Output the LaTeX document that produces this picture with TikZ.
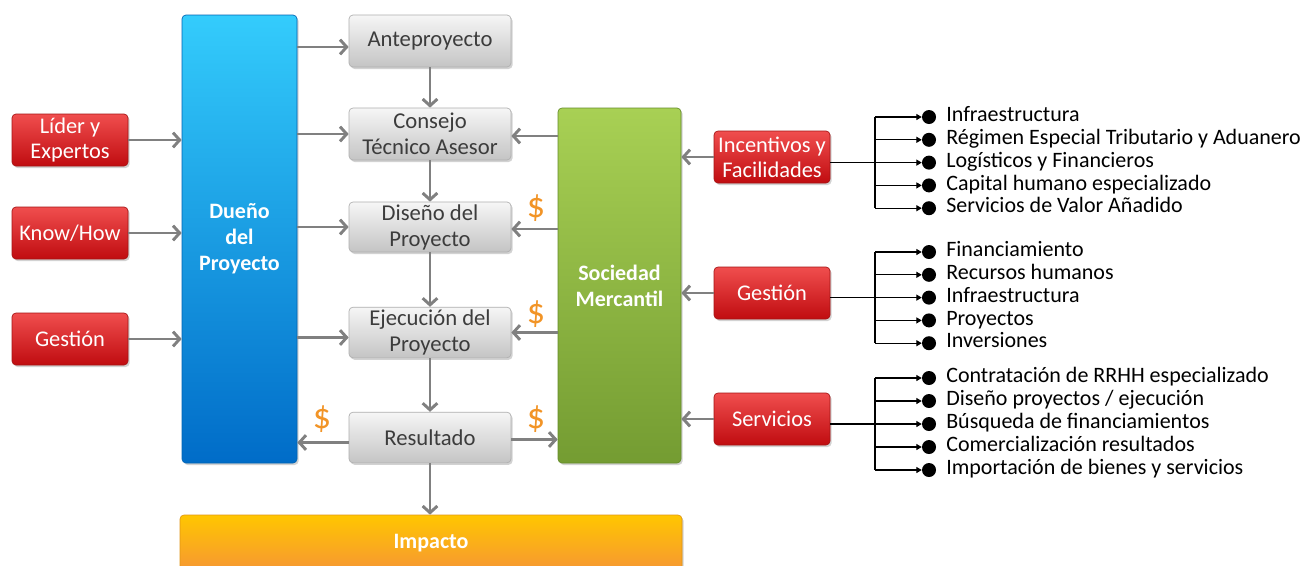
\documentclass[tikz,border=0pt]{standalone}
\usepackage{fontspec}
\setmainfont{Carlito}
\usetikzlibrary{arrows.meta,shadows,calc}
\definecolor{arrgray}{RGB}{128,128,128}
\definecolor{redA}{RGB}{240,78,78}
\definecolor{redB}{RGB}{192,12,16}
\definecolor{redD}{RGB}{165,20,20}
\definecolor{grayA}{RGB}{246,246,246}
\definecolor{grayB}{RGB}{196,196,196}
\definecolor{grayD}{RGB}{175,175,175}
\definecolor{gtext}{RGB}{60,60,60}
\definecolor{blueA}{RGB}{52,204,252}
\definecolor{blueB}{RGB}{0,108,200}
\definecolor{blueD}{RGB}{0,100,180}
\definecolor{greenA}{RGB}{168,208,84}
\definecolor{greenB}{RGB}{116,156,50}
\definecolor{greenD}{RGB}{100,140,40}
\definecolor{orA}{RGB}{255,198,0}
\definecolor{orB}{RGB}{246,150,52}
\definecolor{orD}{RGB}{225,150,20}
\definecolor{dollar}{RGB}{242,148,38}
\begin{document}
\begin{tikzpicture}[x=0.75pt,y=-0.75pt,
  box/.style={rounded corners=3pt, align=center, inner sep=0pt, line width=0.5pt,
    drop shadow={shadow xshift=1.2pt,shadow yshift=-1.5pt,opacity=0.35}},
  redbox/.style={box, top color=redA, bottom color=redB, draw=redD, text=white,
    font=\fontsize{16.8}{18.75}\selectfont, minimum width=87pt, minimum height=39pt},
  graybox/.style={box, top color=grayA, bottom color=grayB, draw=grayD, text=gtext,
    font=\fontsize{17}{19.5}\selectfont, minimum width=121.5pt, minimum height=38pt},
  bigbox/.style={box, text=white, font=\fontsize{16.5}{19.5}\selectfont\bfseries},
  arr/.style={draw=arrgray, line width=2.2pt, -{Straight Barb[length=5pt,width=11pt]}},
  conn/.style={draw=black, line width=1.1pt},
  tarr/.style={draw=black, line width=0.8pt, -{Triangle[length=4pt,width=4.5pt]}},
  dot/.style={circle, fill=black, inner sep=0pt, minimum size=10.5pt},
  item/.style={anchor=west, inner sep=0pt, text height=10pt, text depth=3pt,
    font=\fontsize{16.5}{18}\selectfont},
  dol/.style={text=dollar, inner sep=0pt, font=\fontsize{27}{27}\selectfont}]
\clip (0,0) rectangle (1309,565);
\fill[white] (0,0) rectangle (1309,565);

% left red boxes
\node[redbox] (lider) at (70,140) {Líder y\\Expertos};
\node[redbox] (know) at (70,233) {Know/How};
\node[redbox] (gestA) at (70,339) {Gestión};

% big boxes
\node[bigbox, top color=blueA, bottom color=blueB, draw=blueD,
  minimum width=86.25pt, minimum height=336pt] (dueno) at (239.5,239) {Dueño\\del\\Proyecto};
\node[bigbox, top color=greenA, bottom color=greenB, draw=greenD,
  minimum width=92.25pt, minimum height=266.25pt] (soc) at (619.5,285.5) {Sociedad\\Mercantil};
\node[bigbox, top color=orA, bottom color=orB, draw=orD,
  minimum width=376.5pt, minimum height=42.75pt] (imp) at (431,543.5) {Impacto};

% gray boxes
\node[graybox, minimum height=39pt] (ante) at (430,41) {\raisebox{-2pt}{Anteproyecto}};
\node[graybox, minimum height=39pt] (cons) at (430,134) {Consejo\\Técnico Asesor};
\node[graybox, minimum height=37.5pt] (dis) at (430,227) {Diseño del\\Proyecto};
\node[graybox] (eje) at (430,332.5) {Ejecución del\\Proyecto};
\node[graybox] (res) at (430,437.5) {Resultado};

% right red boxes
\node[redbox] (inc) at (772,157) {Incentivos y\\Facilidades};
\node[redbox] (gestB) at (772,293) {Gestión};
\node[redbox] (serv) at (772,419) {Servicios};

% dollars
\node[dol] (d1) at (536,208) {\$};
\node[dol] (d2) at (536,314) {\$};
\node[dol] (d3) at (322,419) {\$};
\node[dol] (d4) at (536,419) {\$};

% helper coordinates on box edges
\coordinate (pAnte) at ($(ante.west)+(0,6)$);
\coordinate (pEje) at ($(eje.west)+(0,5)$);
\coordinate (pResL) at ($(res.west)+(0,5)$);
\coordinate (pCons) at ($(cons.east)+(0,2)$);
\coordinate (pDis) at ($(dis.east)+(0,2)$);
\coordinate (pResR) at ($(res.east)+(0,2)$);

% arrows left
\draw[arr] (lider) -- (lider -| dueno.west);
\draw[arr] (know) -- (know -| dueno.west);
\draw[arr] (gestA) -- (gestA -| dueno.west);
\draw[arr] (pAnte -| dueno.east) -- (pAnte);
\draw[arr] (cons.west -| dueno.east) -- (cons.west);
\draw[arr] (dis.west -| dueno.east) -- (dis.west);
\draw[arr] (pEje -| dueno.east) -- (pEje);
\draw[arr] (pResL) -- (pResL -| dueno.east);
% vertical chain
\draw[arr] (ante) -- (cons);
\draw[arr] (cons) -- (dis);
\draw[arr] (dis) -- (eje);
\draw[arr] (eje) -- (res);
\draw[arr] (res) -- (res |- imp.north);
% from sociedad
\draw[arr] (pCons -| soc.west) -- (pCons);
\draw[arr] (pDis -| soc.west) -- (pDis);
\draw[arr] (eje.east -| soc.west) -- (eje.east);
\draw[arr] (pResR) -- (pResR -| soc.west);
% right boxes to sociedad
\draw[arr] (inc) -- (inc -| soc.east);
\draw[arr] (gestB) -- (gestB -| soc.east);
\draw[arr] (serv) -- (serv -| soc.east);

% lists
\foreach \t [count=\k] in {Infraestructura,Régimen Especial Tributario y Aduanero,Logísticos y Financieros,Capital humano especializado,Servicios de Valor Añadido}{
  \node[dot] (ad\k) at (929,{117+(\k-1)*22.8}) {};
  \node[item] (at\k) at ($(ad\k)+(17,0)$) {\t};
}
\coordinate (aB) at (875,{117+2*22.8});
\draw[conn] (inc.east |- aB) -- (aB);
\draw[conn] (aB |- ad1) -- (aB |- ad5);
\foreach \k in {1,...,5}{\draw[tarr] (aB |- ad\k) -- (ad\k.west);}

\foreach \t [count=\k] in {Financiamiento,Recursos humanos,Infraestructura,Proyectos,Inversiones}{
  \node[dot] (bd\k) at (929,{252+(\k-1)*22.8}) {};
  \node[item] (bt\k) at ($(bd\k)+(17,0)$) {\t};
}
\coordinate (bB) at (875,{252+2*22.8});
\draw[conn] (gestB.east |- bB) -- (bB);
\draw[conn] (bB |- bd1) -- (bB |- bd5);
\foreach \k in {1,...,5}{\draw[tarr] (bB |- bd\k) -- (bd\k.west);}

\foreach \t [count=\k] in {Contratación de RRHH especializado,Diseño proyectos / ejecución,Búsqueda de financiamientos,Comercialización resultados,Importación de bienes y servicios}{
  \node[dot] (cd\k) at (929,{378+(\k-1)*23}) {};
  \node[item] (ct\k) at ($(cd\k)+(17,0)$) {\t};
}
\coordinate (cB) at (875,{378+2*23});
\draw[conn] (serv.east |- cB) -- (cB);
\draw[conn] (cB |- cd1) -- (cB |- cd5);
\foreach \k in {1,...,5}{\draw[tarr] (cB |- cd\k) -- (cd\k.west);}
\end{tikzpicture}
\end{document}
